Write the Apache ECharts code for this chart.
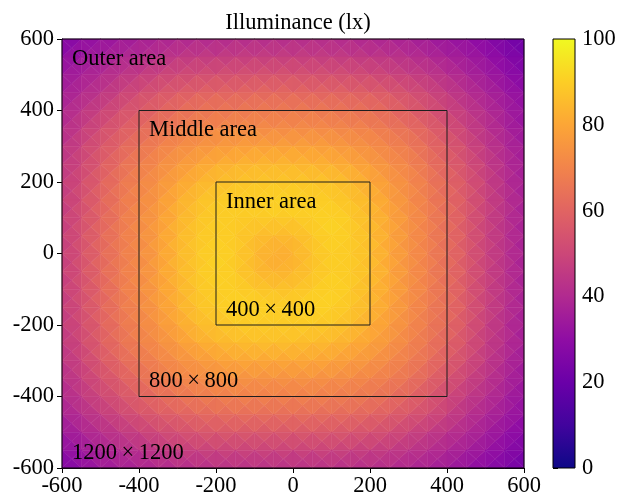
<!DOCTYPE html>
<html>
<head>
<meta charset="utf-8">
<script src="https://cdn.jsdelivr.net/npm/echarts@6/dist/echarts.min.js"></script>
<style>html,body{margin:0;padding:0;background:#fff}#c{width:622px;height:504px}</style>
</head>
<body>
<div id="c"></div>
<script>
// ---------- data ----------
const chartTitle = 'Illuminance (lx)';
const xNodes = [-600,-550,-500,-450,-400,-350,-300,-250,-200,-150,-100,-50,0,50,100,150,200,250,300,350,400,450,500,550,600];
const yNodes = [600,550,500,450,400,350,300,250,200,150,100,50,0,-50,-100,-150,-200,-250,-300,-350,-400,-450,-500,-550,-600];
// illuminance (lx) at each grid node; rows follow yNodes (top to bottom), columns follow xNodes
const illuminance = [
  [26,30,32,34,36,38,39,40,40,41,41,41,41,41,41,40,39,38,37,35,33,31,28,24,21],
  [30,34,36,39,41,43,45,46,46,47,47,47,47,47,46,46,45,44,42,40,37,35,32,28,24],
  [34,37,40,44,46,49,51,52,53,53,54,54,54,53,53,52,51,49,47,45,42,38,35,31,27],
  [36,40,44,48,52,55,57,59,60,60,61,61,61,60,60,59,58,56,53,50,46,42,38,34,30],
  [39,44,48,53,57,60,63,65,66,66,67,67,67,67,66,65,64,61,58,54,50,45,41,36,32],
  [41,46,52,57,61,65,68,70,71,72,72,72,72,72,71,70,69,66,63,59,54,48,43,38,33],
  [43,49,55,60,65,69,72,74,76,77,78,78,78,78,77,75,73,70,67,62,57,51,45,40,35],
  [45,50,57,63,68,72,76,79,82,83,84,84,84,83,82,80,77,73,70,65,59,53,47,41,36],
  [46,52,59,65,70,74,79,83,86,87,88,88,88,88,87,85,81,76,72,67,61,55,48,42,36],
  [46,53,60,66,71,76,82,86,89,90,90,91,91,90,89,87,84,78,73,68,62,56,49,43,37],
  [47,53,60,66,72,77,83,87,90,89,89,89,89,90,91,89,85,80,74,69,63,56,49,43,37],
  [47,54,61,67,72,78,84,88,90,89,86,85,85,88,91,89,86,80,74,69,63,56,49,43,37],
  [47,54,61,67,72,78,84,88,91,89,85,81,83,87,90,89,86,80,74,69,63,56,49,43,37],
  [47,54,61,67,72,78,84,88,91,89,85,83,84,87,90,89,86,80,74,69,63,56,49,43,37],
  [47,53,60,67,72,78,83,88,90,90,88,87,87,89,91,89,85,80,74,69,63,56,49,43,37],
  [46,53,60,66,71,77,82,87,89,91,91,90,90,91,90,88,84,79,73,68,63,56,49,43,37],
  [46,52,59,65,70,75,80,85,87,89,89,89,89,89,88,86,82,77,72,67,62,55,48,42,36],
  [45,51,58,64,69,73,77,81,84,85,86,86,86,85,84,82,79,75,70,66,60,54,47,42,36],
  [44,49,56,61,66,70,73,76,78,80,80,80,80,80,79,77,75,71,68,64,58,52,46,40,35],
  [42,47,53,58,63,67,70,72,73,74,74,74,74,74,73,72,70,68,65,60,55,49,44,39,34],
  [40,45,50,54,59,62,65,67,68,69,69,69,69,69,68,67,66,63,60,56,51,46,42,37,32],
  [37,42,46,50,54,57,59,61,62,63,63,63,63,63,62,62,60,58,55,52,48,43,39,35,31],
  [34,38,42,45,48,51,53,55,56,56,56,56,56,56,56,55,54,52,49,46,43,40,36,32,28],
  [30,34,38,41,43,45,47,48,49,49,49,49,49,49,49,48,47,46,44,42,39,36,33,29,25],
  [25,30,34,36,38,40,41,42,43,43,43,43,43,43,43,42,42,41,39,37,35,32,29,26,22]
];
const areaSizes = [1200, 800, 400];
const areaNames = ['Outer area', 'Middle area', 'Inner area'];
const areaDims = ['1200\u2009×\u20091200', '800\u2009×\u2009800', '400\u2009×\u2009400'];
const axisTicks = [-600, -400, -200, 0, 200, 400, 600];
const colorbarTicks = [0, 20, 40, 60, 80, 100];

// ---------- style ----------
const plasma = ['#0d0887','#41049d','#6a00a8','#8f0da4','#b12a90','#cc4778','#e16462','#f2844b','#fca636','#fcce25','#f0f921'];
const FONT = '"Liberation Serif", "DejaVu Serif", serif';
const FS = 22.5;

// build triangles (each grid cell split into 4 triangles around its centre)
const tris = [];
for (let r = 0; r < yNodes.length - 1; r++) {
  for (let c = 0; c < xNodes.length - 1; c++) {
    const TL = illuminance[r][c], TR = illuminance[r][c+1];
    const BL = illuminance[r+1][c], BR = illuminance[r+1][c+1];
    const C = (TL + TR + BL + BR) / 4;
    tris.push([c, r, 0, (BL + BR + C) / 3]);
    tris.push([c, r, 1, (BR + TR + C) / 3]);
    tris.push([c, r, 2, (TR + TL + C) / 3]);
    tris.push([c, r, 3, (TL + BL + C) / 3]);
  }
}

const chart = echarts.init(document.getElementById('c'), null, {renderer: 'canvas'});

const axisCommon = {
  type: 'value', min: -600, max: 600, interval: 200,
  splitLine: {show: false},
  axisLine: {show: true, onZero: false, lineStyle: {color: '#000', width: 1}},
  axisTick: {show: true, inside: false, length: 5, lineStyle: {color: '#000', width: 1}},
  axisLabel: {color: '#000', fontSize: FS, fontFamily: FONT,
    formatter: v => axisTicks.indexOf(v) >= 0 ? String(v) : ''}
};

chart.setOption({
  animation: false,
  backgroundColor: '#fff',
  title: {
    text: chartTitle, left: 293, top: 7, textAlign: 'center',
    textStyle: {fontFamily: FONT, fontSize: FS, fontWeight: 'normal', color: '#000'}
  },
  grid: [
    {left: 62, top: 39, width: 462, height: 429, containLabel: false},
    {left: 553, top: 39, width: 22, height: 429, containLabel: false}
  ],
  xAxis: [
    Object.assign({gridIndex: 0, position: 'bottom'}, axisCommon,
      {axisLabel: Object.assign({}, axisCommon.axisLabel, {margin: 7})}),
    {gridIndex: 1, type: 'value', min: 0, max: 1, show: false}
  ],
  yAxis: [
    Object.assign({gridIndex: 0, position: 'left'}, axisCommon,
      {axisLabel: Object.assign({}, axisCommon.axisLabel, {margin: 8})}),
    {gridIndex: 1, type: 'value', min: 0, max: 100, interval: 20, position: 'right',
     splitLine: {show: false},
     axisLine: {show: false},
     axisTick: {show: true, inside: false, length: 5, lineStyle: {color: '#000', width: 1}},
     axisLabel: {color: '#000', fontSize: FS, fontFamily: FONT, margin: 7,
       formatter: v => colorbarTicks.indexOf(v) >= 0 ? String(v) : ''}}
  ],
  visualMap: {
    type: 'continuous', show: false, min: 0, max: 100, dimension: 3, seriesIndex: 0,
    inRange: {color: plasma}
  },
  series: [
    {
      type: 'custom', xAxisIndex: 0, yAxisIndex: 0, data: tris,
      coordinateSystem: 'cartesian2d', silent: true, z: 1,
      renderItem: function (params, api) {
        const c = api.value(0), r = api.value(1), k = api.value(2);
        const x0 = xNodes[c], x1 = xNodes[c+1], yT = yNodes[r], yB = yNodes[r+1];
        const pTL = api.coord([x0, yT]), pTR = api.coord([x1, yT]);
        const pBL = api.coord([x0, yB]), pBR = api.coord([x1, yB]);
        const pC = api.coord([(x0 + x1) / 2, (yT + yB) / 2]);
        const pts = [[pBL, pBR], [pBR, pTR], [pTR, pTL], [pTL, pBL]][k];
        const col = api.visual('color');
        return {
          type: 'polygon',
          shape: {points: [pts[0], pts[1], pC]},
          style: {fill: col, stroke: col, lineWidth: 0.5}
        };
      }
    },
    {
      type: 'custom', xAxisIndex: 0, yAxisIndex: 0, silent: true, z: 5,
      data: areaSizes.map((s, i) => [s, i]),
      renderItem: function (params, api) {
        const half = api.value(0) / 2, i = api.value(1);
        const tl = api.coord([-half, half]);
        const br = api.coord([half, -half]);
        const bl = api.coord([-half, -half]);
        return {
          type: 'group',
          children: [
            {type: 'rect', shape: {x: tl[0], y: tl[1], width: br[0] - tl[0], height: br[1] - tl[1]},
             style: {fill: null, stroke: i === 0 ? '#000' : '#1e1e1e', lineWidth: 1}},
            {type: 'text', x: tl[0] + 10, y: tl[1] + 20,
             style: {text: areaNames[i], fill: '#000', font: FS + 'px ' + FONT, verticalAlign: 'middle', align: 'left'}},
            {type: 'text', x: bl[0] + 10, y: bl[1] - 15,
             style: {text: areaDims[i], fill: '#000', font: FS + 'px ' + FONT, verticalAlign: 'middle', align: 'left'}}
          ]
        };
      }
    },
    {
      type: 'custom', xAxisIndex: 1, yAxisIndex: 1, silent: true, z: 2,
      data: [[0]],
      renderItem: function (params, api) {
        const a = api.coord([0, 100]), b = api.coord([1, 0]);
        return {
          type: 'rect',
          shape: {x: a[0], y: a[1], width: b[0] - a[0], height: b[1] - a[1]},
          style: {
            fill: new echarts.graphic.LinearGradient(0, 1, 0, 0,
              plasma.map((c, i) => ({offset: i / (plasma.length - 1), color: c}))),
            stroke: '#000', lineWidth: 1
          }
        };
      }
    }
  ]
});
</script>
</body>
</html>
